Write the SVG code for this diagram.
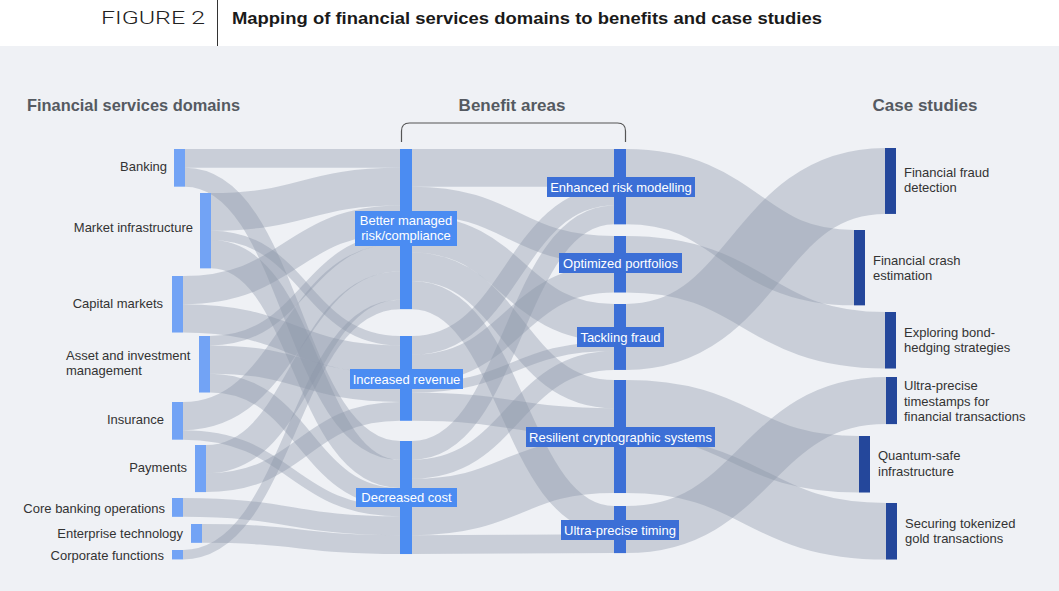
<svg xmlns="http://www.w3.org/2000/svg" width="1059" height="591" viewBox="0 0 1059 591">
<style>
.lk{fill:none;stroke:#8c95a8;stroke-opacity:0.38}
.dom{fill:#72a3f5}
.b1{fill:#4b8cf2}
.b2{fill:#3c6fd6}
.cs{fill:#24479b}
.lbl{font-family:"Liberation Sans",Arial,sans-serif;font-size:13px;fill:#333}
.wl{font-family:"Liberation Sans",Arial,sans-serif;font-size:13px;fill:#fff;text-anchor:middle}
.hd{font-family:"Liberation Sans",Arial,sans-serif;font-size:17px;fill:#555a61;font-weight:bold}
</style>
<rect x="0" y="0" width="1059" height="46" fill="#ffffff"/>
<rect x="0" y="46" width="1059" height="545" fill="#eff1f5"/>
<line x1="217.5" y1="0" x2="217.5" y2="46" stroke="#333" stroke-width="1"/>
<text x="101" y="24" font-family="Roboto,'Liberation Sans',Arial,sans-serif" font-weight="300" font-size="19" fill="#222" textLength="104" lengthAdjust="spacingAndGlyphs">FIGURE 2</text>
<text x="232" y="24" font-family="'Liberation Sans',Arial,sans-serif" font-size="17" font-weight="bold" fill="#1a1a1a" textLength="590" lengthAdjust="spacingAndGlyphs">Mapping of financial services domains to benefits and case studies</text>

<text class="hd" x="27" y="111" textLength="213" lengthAdjust="spacingAndGlyphs">Financial services domains</text>
<text class="hd" x="512" y="111" text-anchor="middle">Benefit areas</text>
<text class="hd" x="925" y="111" text-anchor="middle">Case studies</text>
<path d="M401.5 142 V131 Q401.5 123 409.5 123 H617.5 Q625.5 123 625.5 131 V142" fill="none" stroke="#555" stroke-width="1.2"/>

<g id="connectors">
<path class="lk" stroke-width="18.84" d="M185 158.42 C292.5 158.42 292.5 158.42 400 158.42"/>
<path class="lk" stroke-width="18.84" d="M185 177.26 C292.5 177.26 292.5 450.42 400 450.42"/>
<path class="lk" stroke-width="37.68" d="M211 211.84 C305.5 211.84 305.5 186.68 400 186.68"/>
<path class="lk" stroke-width="9.42" d="M211 235.39 C305.5 235.39 305.5 340.71 400 340.71"/>
<path class="lk" stroke-width="28.26" d="M211 254.23 C305.5 254.23 305.5 473.97 400 473.97"/>
<path class="lk" stroke-width="28.26" d="M183 290.13 C291.5 290.13 291.5 219.65 400 219.65"/>
<path class="lk" stroke-width="28.26" d="M183 318.39 C291.5 318.39 291.5 359.55 400 359.55"/>
<path class="lk" stroke-width="9.42" d="M210 340.71 C305 340.71 305 238.49 400 238.49"/>
<path class="lk" stroke-width="28.26" d="M210 359.55 C305 359.55 305 387.81 400 387.81"/>
<path class="lk" stroke-width="18.84" d="M210 383.1 C305 383.1 305 497.52 400 497.52"/>
<path class="lk" stroke-width="28.26" d="M183 416.13 C291.5 416.13 291.5 257.33 400 257.33"/>
<path class="lk" stroke-width="9.42" d="M183 434.97 C291.5 434.97 291.5 511.65 400 511.65"/>
<path class="lk" stroke-width="28.26" d="M206 459.13 C303 459.13 303 285.59 400 285.59"/>
<path class="lk" stroke-width="18.84" d="M206 482.68 C303 482.68 303 411.36 400 411.36"/>
<path class="lk" stroke-width="18.84" d="M183 507.42 C291.5 507.42 291.5 525.78 400 525.78"/>
<path class="lk" stroke-width="18.84" d="M202 533.42 C301 533.42 301 544.62 400 544.62"/>
<path class="lk" stroke-width="9.42" d="M183 554.71 C291.5 554.71 291.5 304.43 400 304.43"/>

<path class="lk" stroke-width="37.68" d="M412 167.84 C513 167.84 513 167.84 614 167.84"/>
<path class="lk" stroke-width="28.26" d="M412 200.81 C513 200.81 513 250.13 614 250.13"/>
<path class="lk" stroke-width="37.68" d="M412 233.78 C513 233.78 513 322.84 614 322.84"/>
<path class="lk" stroke-width="28.26" d="M412 266.75 C513 266.75 513 394.13 614 394.13"/>
<path class="lk" stroke-width="28.26" d="M412 295.01 C513 295.01 513 520.13 614 520.13"/>
<path class="lk" stroke-width="18.84" d="M412 345.42 C513 345.42 513 196.1 614 196.1"/>
<path class="lk" stroke-width="28.26" d="M412 368.97 C513 368.97 513 278.39 614 278.39"/>
<path class="lk" stroke-width="9.42" d="M412 387.81 C513 387.81 513 346.39 614 346.39"/>
<path class="lk" stroke-width="28.26" d="M412 406.65 C513 406.65 513 422.39 614 422.39"/>
<path class="lk" stroke-width="18.84" d="M412 450.42 C513 450.42 513 214.94 614 214.94"/>
<path class="lk" stroke-width="18.84" d="M412 469.26 C513 469.26 513 360.52 614 360.52"/>
<path class="lk" stroke-width="56.52" d="M412 506.94 C513 506.94 513 464.78 614 464.78"/>
<path class="lk" stroke-width="18.84" d="M412 544.62 C513 544.62 513 543.68 614 543.68"/>

<path class="lk" stroke-width="75.36" d="M626 186.68 C740 186.68 740 267.68 854 267.68"/>
<path class="lk" stroke-width="56.52" d="M626 264.26 C755.5 264.26 755.5 340.26 885 340.26"/>
<path class="lk" stroke-width="65.94" d="M626 336.97 C755.5 336.97 755.5 180.97 885 180.97"/>
<path class="lk" stroke-width="56.52" d="M626 408.26 C742.5 408.26 742.5 464.26 859 464.26"/>
<path class="lk" stroke-width="56.52" d="M626 464.78 C756 464.78 756 531.26 886 531.26"/>
<path class="lk" stroke-width="47.1" d="M626 529.55 C756 529.55 756 400.55 886 400.55"/>
</g>

<g id="banking"><rect class="dom" x="174" y="149" width="11" height="37.68"/><text class="lbl" x="167" y="171" text-anchor="end">Banking</text></g>
<g id="market-infrastructure"><rect class="dom" x="200" y="193" width="11" height="75.36"/><text class="lbl" x="193" y="232" text-anchor="end">Market infrastructure</text></g>
<g id="capital-markets"><rect class="dom" x="172" y="276" width="11" height="56.52"/><text class="lbl" x="163" y="308" text-anchor="end">Capital markets</text></g>
<g id="asset-management"><rect class="dom" x="199" y="336" width="11" height="56.52"/><text class="lbl" x="66" y="360">Asset and investment</text><text class="lbl" x="66" y="375">management</text></g>
<g id="insurance"><rect class="dom" x="172" y="402" width="11" height="37.68"/><text class="lbl" x="164" y="424" text-anchor="end">Insurance</text></g>
<g id="payments"><rect class="dom" x="195" y="445" width="11" height="47.1"/><text class="lbl" x="187" y="472" text-anchor="end">Payments</text></g>
<g id="core-banking"><rect class="dom" x="172" y="498" width="11" height="18.84"/><text class="lbl" x="165" y="513" text-anchor="end">Core banking operations</text></g>
<g id="enterprise-technology"><rect class="dom" x="191" y="524" width="11" height="18.84"/><text class="lbl" x="183" y="538" text-anchor="end">Enterprise technology</text></g>
<g id="corporate-functions"><rect class="dom" x="172" y="550" width="11" height="9.42"/><text class="lbl" x="164" y="560" text-anchor="end">Corporate functions</text></g>

<g id="better-managed-risk"><rect class="b1" x="400" y="149" width="12" height="160.14"/><rect class="b1" x="355" y="211" width="102" height="35"/><text class="wl" x="406" y="224.5">Better managed</text><text class="wl" x="406" y="239.5">risk/compliance</text></g>
<g id="increased-revenue"><rect class="b1" x="400" y="336" width="12" height="84.78"/><rect class="b1" x="350" y="369" width="113" height="20"/><text class="wl" x="406.5" y="383.5">Increased revenue</text></g>
<g id="decreased-cost"><rect class="b1" x="400" y="441" width="12" height="113.04"/><rect class="b1" x="356" y="488" width="101" height="19"/><text class="wl" x="406.5" y="502">Decreased cost</text></g>

<g id="enhanced-risk-modelling"><rect class="b2" x="614" y="149" width="12" height="75.36"/><rect class="b2" x="547" y="177" width="148" height="20"/><text class="wl" x="621" y="191.5">Enhanced risk modelling</text></g>
<g id="optimized-portfolios"><rect class="b2" x="614" y="236" width="12" height="56.52"/><rect class="b2" x="559" y="253" width="123" height="20"/><text class="wl" x="620.5" y="267.5">Optimized portfolios</text></g>
<g id="tackling-fraud"><rect class="b2" x="614" y="304" width="12" height="65.94"/><rect class="b2" x="577" y="327" width="87" height="20"/><text class="wl" x="620.5" y="341.5">Tackling fraud</text></g>
<g id="resilient-crypto"><rect class="b2" x="614" y="380" width="12" height="113.04"/><rect class="b2" x="526" y="427" width="189" height="20"/><text class="wl" x="620.5" y="441.5">Resilient cryptographic systems</text></g>
<g id="ultra-precise-timing"><rect class="b2" x="614" y="506" width="12" height="47.1"/><rect class="b2" x="561" y="520" width="118" height="20"/><text class="wl" x="620" y="534.5">Ultra-precise timing</text></g>

<g id="financial-fraud-detection"><rect class="cs" x="885" y="148" width="11" height="65.94"/><text class="lbl" x="904" y="177">Financial fraud</text><text class="lbl" x="904" y="192">detection</text></g>
<g id="financial-crash-estimation"><rect class="cs" x="854" y="230" width="11" height="75.36"/><text class="lbl" x="873" y="265">Financial crash</text><text class="lbl" x="873" y="280">estimation</text></g>
<g id="bond-hedging"><rect class="cs" x="885" y="312" width="11" height="56.52"/><text class="lbl" x="904" y="337">Exploring bond-</text><text class="lbl" x="904" y="352">hedging strategies</text></g>
<g id="timestamps"><rect class="cs" x="886" y="377" width="11" height="47.1"/><text class="lbl" x="904" y="390">Ultra-precise</text><text class="lbl" x="904" y="405.5">timestamps for</text><text class="lbl" x="904" y="421">financial transactions</text></g>
<g id="quantum-safe"><rect class="cs" x="859" y="436" width="11" height="56.52"/><text class="lbl" x="878" y="460">Quantum-safe</text><text class="lbl" x="878" y="475.5">infrastructure</text></g>
<g id="tokenized-gold"><rect class="cs" x="886" y="503" width="11" height="56.52"/><text class="lbl" x="905" y="528">Securing tokenized</text><text class="lbl" x="905" y="543">gold transactions</text></g>
</svg>
